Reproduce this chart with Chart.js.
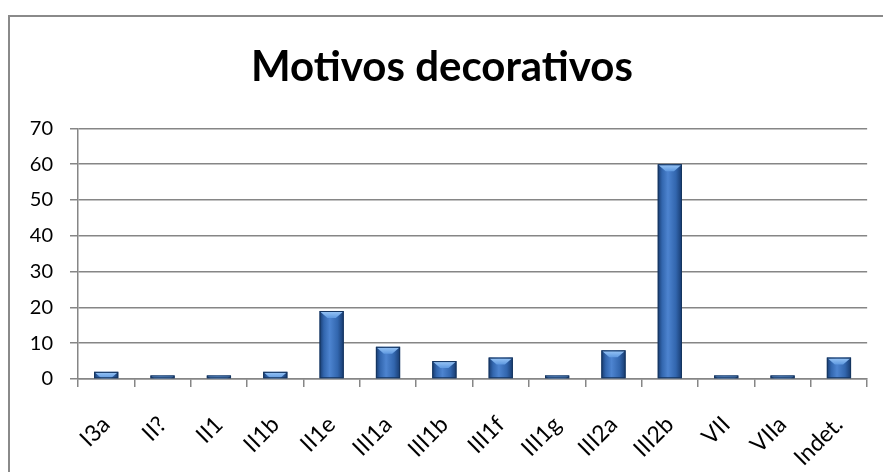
<!DOCTYPE html>
<html><head><meta charset="utf-8">
<script src="https://cdn.jsdelivr.net/npm/chart.js@4/dist/chart.umd.min.js"></script>
<style>html,body{margin:0;padding:0;background:#fff;}#wrap{position:absolute;left:0;top:0;width:883px;height:472px;}</style>
</head><body>
<div id="wrap"><canvas id="c" width="883" height="472"></canvas></div>
<script>
const categories = ["I3a","II?","II1","II1b","II1e","III1a","III1b","III1f","III1g","III2a","III2b","VII","VIIa","Indet."];
const values = [2,1,1,2,19,9,5,6,1,8,60,1,1,6];
const yTicks = [0,10,20,30,40,50,60,70];
const titleText = 'Motivos decorativos';

const FONT = "Lato, 'Open Sans', 'Liberation Sans', sans-serif";
const BAR_PCT = 0.43;

// fit title size to the reference width (~380px)
const mctx = document.createElement('canvas').getContext('2d');
mctx.font = "bold 40px " + FONT;
const titleSize = Math.round(40 * 382 / mctx.measureText(titleText).width);
const titleLH = Math.round(titleSize * 1.2);
const titleMid = 67;

function barGradient(ctx) {
  const chart = ctx.chart;
  const xs = chart.scales && chart.scales.x;
  if (!xs || ctx.dataIndex === undefined) return '#3a6fb8';
  const cx = xs.getPixelForValue(ctx.dataIndex);
  const w = (xs.width / categories.length) * BAR_PCT;
  if (!Number.isFinite(cx) || !Number.isFinite(w) || w <= 0) return '#3a6fb8';
  const g = chart.ctx.createLinearGradient(cx - w / 2, 0, cx + w / 2, 0);
  g.addColorStop(0, '#173a6e');
  g.addColorStop(0.18, '#3266ae');
  g.addColorStop(0.42, '#4d84d0');
  g.addColorStop(0.75, '#3266ae');
  g.addColorStop(1, '#173a6e');
  return g;
}

const bevel = {
  id: 'bevel',
  afterDatasetsDraw(chart) {
    const c = chart.ctx;
    const meta = chart.getDatasetMeta(0);
    meta.data.forEach((bar) => {
      const w = bar.width, x0 = bar.x - w / 2, x1 = bar.x + w / 2;
      const top = bar.y, base = bar.base;
      const h = base - top;
      const d = Math.min(7, h);
      c.save();
      const g = c.createLinearGradient(0, top, 0, top + d);
      g.addColorStop(0, '#9cc8f7');
      g.addColorStop(1, '#5f99e0');
      c.fillStyle = g;
      c.beginPath();
      c.moveTo(x0 + 1, top + 1);
      c.lineTo(x1 - 1, top + 1);
      c.lineTo(x1 - 1 - Math.min(w * 0.3, d), top + d);
      c.lineTo(x0 + 1 + Math.min(w * 0.3, d), top + d);
      c.closePath();
      c.fill();
      c.strokeStyle = '#15355f';
      c.lineWidth = 1;
      c.strokeRect(x0 + 0.5, top + 0.5, w - 1, h - 1);
      c.restore();
    });
  }
};

const frame = {
  id: 'frame',
  afterDraw(chart) {
    const c = chart.ctx;
    c.save();
    c.strokeStyle = '#8a8a8a';
    c.lineWidth = 2;
    c.beginPath();
    c.moveTo(9, 472);
    c.lineTo(9, 16);
    c.lineTo(883, 16);
    c.stroke();
    c.restore();
  }
};

new Chart(document.getElementById('c'), {
  type: 'bar',
  data: {
    labels: categories,
    datasets: [{
      data: values,
      backgroundColor: barGradient,
      borderWidth: 0,
      barPercentage: BAR_PCT,
      categoryPercentage: 1.0
    }]
  },
  options: {
    responsive: false,
    animation: false,
    devicePixelRatio: 1,
    layout: { padding: { left: 16, right: 15, top: 0, bottom: 0 } },
    plugins: {
      legend: { display: false },
      tooltip: { enabled: false },
      title: {
        display: true,
        text: titleText,
        color: '#000',
        font: { family: FONT, size: titleSize, weight: 'bold', lineHeight: 1.2 },
        padding: { top: titleMid - titleLH / 2, bottom: 128 - titleMid - titleLH / 2 }
      }
    },
    scales: {
      x: {
        afterFit(axis) { axis.height = 93; },
        grid: { display: true, drawOnChartArea: false, offset: true, color: '#868686', tickLength: 8, lineWidth: 1.5 },
        border: { color: '#868686', width: 1.5 },
        ticks: { color: '#000', font: { family: FONT, size: 23 }, maxRotation: 45, minRotation: 45, padding: 24, autoSkip: false }
      },
      y: {
        min: 0, max: 70,
        afterFit(axis) { axis.width = 62; },
        afterBuildTicks(axis) { axis.ticks = yTicks.map(v => ({ value: v })); },
        grid: { color: '#868686', tickLength: 8, lineWidth: 1.5 },
        border: { color: '#868686', width: 1.5 },
        ticks: { color: '#000', font: { family: FONT, size: 20 }, padding: 17 }
      }
    }
  },
  plugins: [bevel, frame]
});
</script>
</body></html>
